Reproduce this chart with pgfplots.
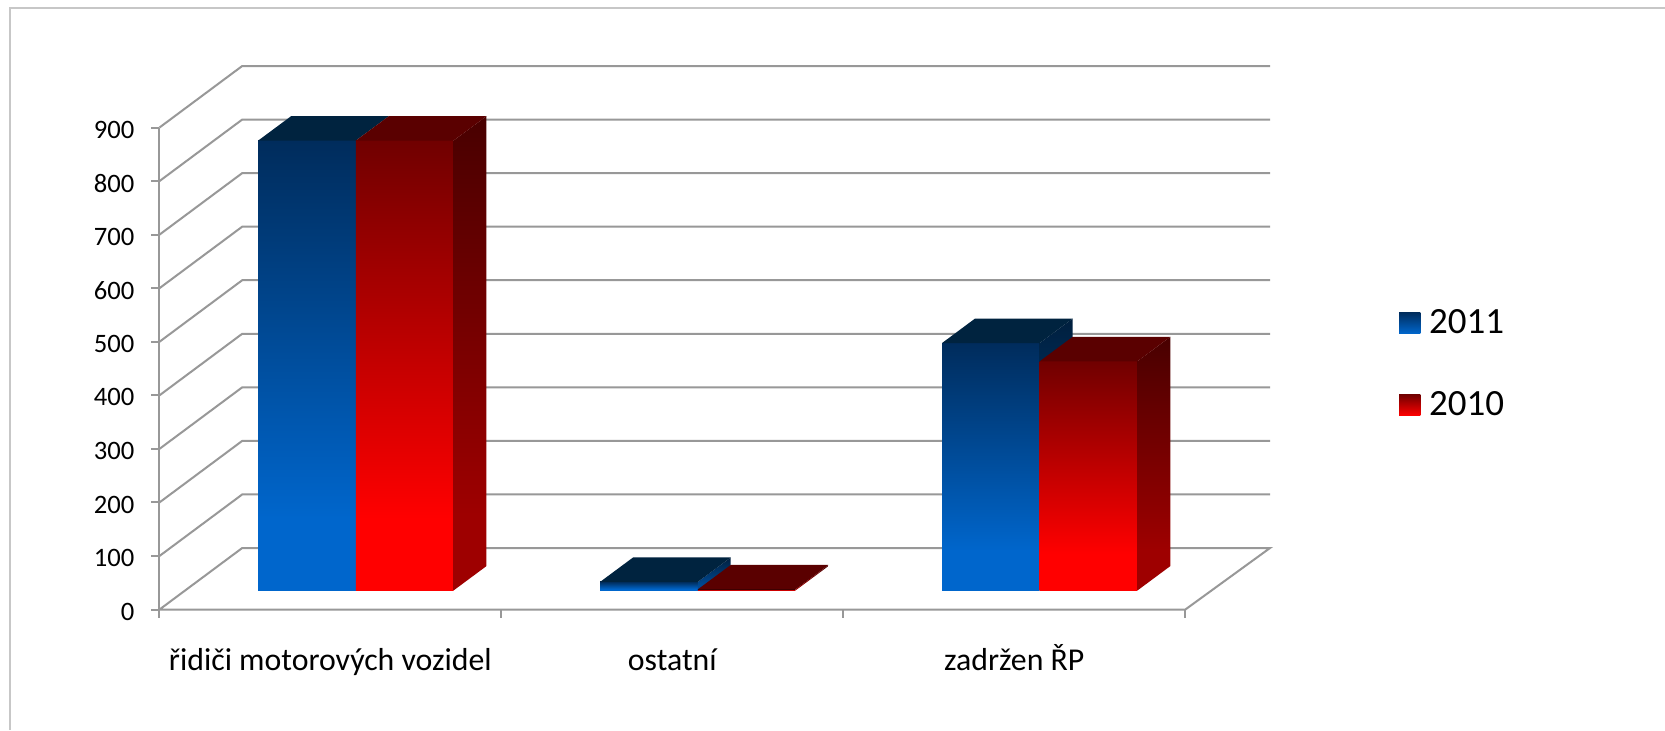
\documentclass[border=0pt]{standalone}
\usepackage{pgfplots}
\pgfplotsset{compat=1.18}
\usepackage{fontspec}
\setmainfont{Carlito}
\definecolor{gridc}{HTML}{989898}
\definecolor{frontblueT}{HTML}{002C5C}
\definecolor{frontblueB}{HTML}{0066CC}
\definecolor{frontredT}{HTML}{700000}
\definecolor{frontredB}{HTML}{FF0000}
\definecolor{sideblueT}{HTML}{001F3E}
\definecolor{sideblueB}{HTML}{004A94}
\definecolor{sideredT}{HTML}{480000}
\definecolor{sideredB}{HTML}{9E0000}
\definecolor{topblue}{HTML}{00233F}
\definecolor{topred}{HTML}{5A0000}
% bright lower part, then dark towards the top
\pgfdeclareverticalshading{bluefront}{100bp}{color(0bp)=(frontblueB); color(33bp)=(frontblueB); color(75bp)=(frontblueT); color(100bp)=(frontblueT)}
\pgfdeclareverticalshading{redfront}{100bp}{color(0bp)=(frontredB); color(33bp)=(frontredB); color(75bp)=(frontredT); color(100bp)=(frontredT)}
\pgfdeclareverticalshading{blueside}{100bp}{color(0bp)=(sideblueB); color(33bp)=(sideblueB); color(75bp)=(sideblueT); color(100bp)=(sideblueT)}
\pgfdeclareverticalshading{redside}{100bp}{color(0bp)=(sideredB); color(33bp)=(sideredB); color(75bp)=(sideredT); color(100bp)=(sideredT)}
\pgfplotsset{
  wall/.style={draw=gridc, line width=1pt, forget plot},
  % everything on the bars sits a bit inside the floor
  onfloor/.style={xshift=12.74pt, yshift=9.56pt, draw=none, forget plot},
  fblue/.style={onfloor, ybar, bar width=0.2857, bar shift=-0.14285, shade, shading=bluefront},
  fred/.style={onfloor, ybar, bar width=0.2857, bar shift=0.14285, shade, shading=redfront},
  sblue/.style={onfloor, shade, shading=blueside},
  sred/.style={onfloor, shade, shading=redside},
  tblue/.style={onfloor, fill=topblue},
  tred/.style={onfloor, fill=topred},
}
\begin{document}
\begin{tikzpicture}
\useasboundingbox (0,0) rectangle (832.5pt,365pt);
\fill[white] (0,0) rectangle (832.5pt,365pt);
\draw[black!22, line width=1pt] (4.8pt,0) -- (4.8pt,361pt) -- (832.5pt,361pt);
\begin{axis}[
    at={(79.7pt,60.2pt)}, anchor=south west,
    scale only axis,
    width=555.3pt, height=271.8pt,
    xmin=0, xmax=3.248, ymin=0, ymax=1015,
    clip=false,
    axis line style={draw=none},
    xtick={0.5,1.5,2.5},
    xticklabels={řidiči motorových vozidel, ostatní, zadržen ŘP},
    minor xtick={0,1,2,3},
    ytick={0,100,...,900},
    xtick pos=lower, ytick pos=left,
    tick align=outside,
    major x tick style={draw=none},
    minor x tick style={draw=gridc, line width=1pt},
    major y tick style={draw=gridc, line width=1pt},
    minor tick length=4pt, major tick length=4pt,
    yticklabel style={font=\fontsize{13.3}{15}\selectfont, xshift=-5pt, yshift=-1pt},
    /pgf/number format/assume math mode=true,
    xticklabel style={font=\fontsize{15.9}{18}\selectfont, yshift=-12pt, text height=11pt, text depth=3pt},
    legend style={at={(1.116,0.452)}, anchor=west, draw=none, fill=none,
      font=\fontsize{18.5}{20}\selectfont, row sep=23.5pt, inner sep=0pt},
    legend cell align=left,
]
\addlegendimage{legend image code/.code={\shade[draw=none, top color=frontblueT, bottom color=frontblueB] (0pt,-5.3pt) rectangle (10.6pt,5.3pt); \path (12.7pt,0);}}
\addlegendentry{2011}
\addlegendimage{legend image code/.code={\shade[draw=none, top color=frontredT, bottom color=frontredB] (0pt,-5.3pt) rectangle (10.6pt,5.3pt); \path (12.7pt,0);}}
\addlegendentry{2010}

% floor and walls
\addplot[wall] coordinates {(0,0) (0,900)};
\addplot[wall] coordinates {(0,0) (3,0) (3.248,115) (0.2422,115) (0,0)};
\addplot[wall] coordinates {(0,100) (0.2422,215) (3.248,215)};
\addplot[wall] coordinates {(0,200) (0.2422,315) (3.248,315)};
\addplot[wall] coordinates {(0,300) (0.2422,415) (3.248,415)};
\addplot[wall] coordinates {(0,400) (0.2422,515) (3.248,515)};
\addplot[wall] coordinates {(0,500) (0.2422,615) (3.248,615)};
\addplot[wall] coordinates {(0,600) (0.2422,715) (3.248,715)};
\addplot[wall] coordinates {(0,700) (0.2422,815) (3.248,815)};
\addplot[wall] coordinates {(0,800) (0.2422,915) (3.248,915)};
\addplot[wall] coordinates {(0,900) (0.2422,1015) (3.248,1015)};

% 2011, blue
\addplot[fblue] coordinates {(0.5,840)};
\addplot[tblue] coordinates {(0.2143,840) (0.5,840) (0.5963,885.6) (0.3106,885.6)} --cycle;
\addplot[fblue] coordinates {(1.5,16)};
\addplot[sblue] coordinates {(1.5,0) (1.5963,45.6) (1.5963,61.6) (1.5,16)} --cycle;
\addplot[tblue] coordinates {(1.2143,16) (1.5,16) (1.5963,61.6) (1.3106,61.6)} --cycle;
\addplot[fblue] coordinates {(2.5,462)};
\addplot[sblue] coordinates {(2.5,0) (2.5963,45.6) (2.5963,507.6) (2.5,462)} --cycle;
\addplot[tblue] coordinates {(2.2143,462) (2.5,462) (2.5963,507.6) (2.3106,507.6)} --cycle;

% 2010, red
\addplot[fred] coordinates {(0.5,840)};
\addplot[sred] coordinates {(0.7857,0) (0.882,45.6) (0.882,885.6) (0.7857,840)} --cycle;
\addplot[tred] coordinates {(0.5,840) (0.7857,840) (0.882,885.6) (0.5963,885.6)} --cycle;
\addplot[fred] coordinates {(1.5,2)};
\addplot[sred] coordinates {(1.7857,0) (1.882,45.6) (1.882,47.6) (1.7857,2)} --cycle;
\addplot[tred] coordinates {(1.5,2) (1.7857,2) (1.882,47.6) (1.5963,47.6)} --cycle;
\addplot[fred] coordinates {(2.5,428)};
\addplot[sred] coordinates {(2.7857,0) (2.882,45.6) (2.882,473.6) (2.7857,428)} --cycle;
\addplot[tred] coordinates {(2.5,428) (2.7857,428) (2.882,473.6) (2.5963,473.6)} --cycle;
\end{axis}
\end{tikzpicture}
\end{document}
